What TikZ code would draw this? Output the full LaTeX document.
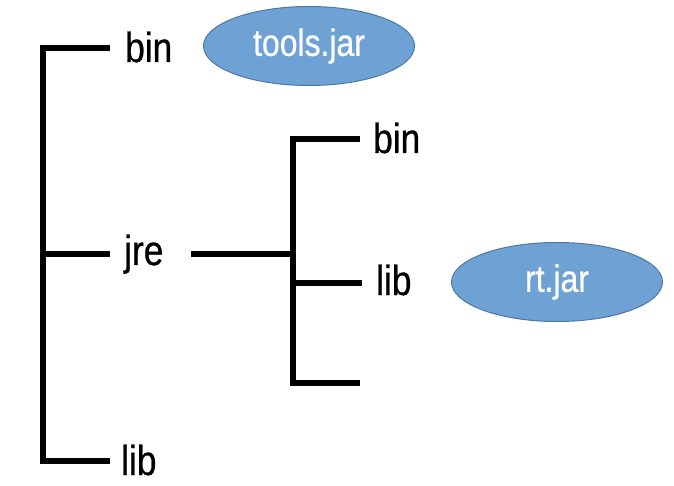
\documentclass[tikz,border=0pt]{standalone}
\usepackage{fontspec}
\setmainfont{Liberation Sans}[FakeStretch=0.84,FakeBold=0.6]
\usetikzlibrary{shapes.geometric}
\definecolor{jarfill}{HTML}{6FA2D4}
\definecolor{jardraw}{HTML}{4A76A8}
\begin{document}
\begin{tikzpicture}[x=1pt,y=-1pt,
  tree/.style={line width=6.5pt},
  lbl/.style={font=\fontsize{42}{42}\selectfont, inner sep=0pt, anchor=base west},
  jar/.style={ellipse, fill=jarfill, draw=jardraw, line width=1pt,
    minimum width=211pt, minimum height=79pt, inner sep=0pt,
    text=white, font=\fontsize{38}{38}\selectfont}]
\useasboundingbox (0,0) rectangle (674,486);
% labels
\node[lbl] (bin1) at (125,62) {bin};
\node[lbl] (jre) at (124,265) {jre};
\node[lbl] (lib1) at (121,475) {lib};
\node[lbl] (bin2) at (373,153) {bin};
\node[lbl] (lib2) at (376,295) {lib};
% jars
\node[jar] (tools) at (309,46) {tools.jar};
\node[jar] (rt) at (557,282) {rt.jar};
% tree joints
\coordinate (a1) at (43,48);
\coordinate (a1e) at (110,48);
\coordinate (a2) at (43,461);
\coordinate (a2e) at (110,461);
\coordinate (am) at (43,254);
\coordinate (ame) at (110,254);
\coordinate (js) at (191,254);
\coordinate (b1) at (293,139);
\coordinate (b1e) at (360,139);
\coordinate (bm) at (293,254);
\coordinate (b2) at (293,283);
\coordinate (b2e) at (362,283);
\coordinate (b3) at (293,383);
\coordinate (b3e) at (360,383);
% connectors
\draw[tree] (a1e) -- (a1) -- (a2) -- (a2e);
\draw[tree] (am) -- (ame);
\draw[tree] (js) -- (bm);
\draw[tree] (b1e) -- (b1) -- (b3) -- (b3e);
\draw[tree] (b2) -- (b2e);
\end{tikzpicture}
\end{document}
